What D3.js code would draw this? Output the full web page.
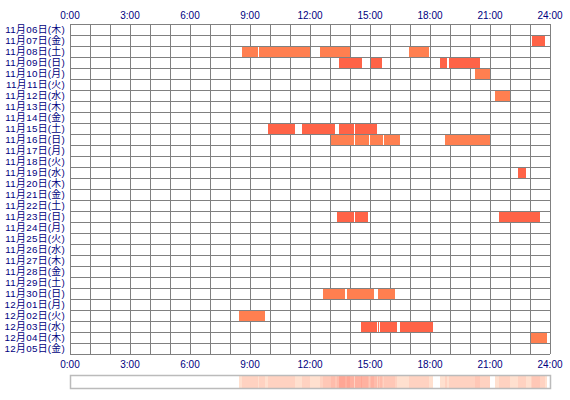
<!DOCTYPE html>
<html>
<head>
<meta charset="utf-8">
<script src="https://cdn.jsdelivr.net/npm/d3@7"></script>
<style>
  body { margin: 0; background: #fff; }
  svg text { font-family: "Liberation Sans", "Noto Sans CJK JP", sans-serif; fill: #000080; }
</style>
</head>
<body>
<svg id="chart" width="570" height="400"></svg>
<script>
const days = [
    "11月06日(木)", "11月07日(金)", "11月08日(土)", "11月09日(日)", "11月10日(月)",
    "11月11日(火)", "11月12日(水)", "11月13日(木)", "11月14日(金)", "11月15日(土)",
    "11月16日(日)", "11月17日(月)", "11月18日(火)", "11月19日(水)", "11月20日(木)",
    "11月21日(金)", "11月22日(土)", "11月23日(日)", "11月24日(月)", "11月25日(火)",
    "11月26日(水)", "11月27日(木)", "11月28日(金)", "11月29日(土)", "11月30日(日)",
    "12月01日(月)", "12月02日(火)", "12月03日(水)", "12月04日(木)", "12月05日(金)"
];

const tickHours = [0, 3, 6, 9, 12, 15, 18, 21, 24];
const tickLabels = ["0:00", "3:00", "6:00", "9:00", "12:00", "15:00", "18:00", "21:00", "24:00"];

// [day label, start hour, end hour, kind]
const sessions = [
    ["11月07日(金)", 23.1, 23.75, "b"],
    ["11月08日(土)", 8.6, 9.4, "a"], ["11月08日(土)", 9.45, 12.0, "a"],
    ["11月08日(土)", 12.5, 14.0, "a"], ["11月08日(土)", 16.95, 17.95, "a"],
    ["11月09日(日)", 13.45, 14.6, "b"], ["11月09日(日)", 15.05, 15.6, "b"],
    ["11月09日(日)", 18.5, 18.83, "b"], ["11月09日(日)", 18.93, 20.5, "b"],
    ["11月10日(月)", 20.25, 21.0, "a"],
    ["11月12日(水)", 21.25, 22.0, "a"],
    ["11月15日(土)", 9.9, 11.25, "b"], ["11月15日(土)", 11.6, 13.25, "b"],
    ["11月15日(土)", 13.45, 14.2, "b"], ["11月15日(土)", 14.25, 15.35, "b"],
    ["11月16日(日)", 13.05, 14.2, "a"], ["11月16日(日)", 14.27, 14.95, "a"],
    ["11月16日(日)", 15.0, 15.65, "a"], ["11月16日(日)", 15.7, 16.5, "a"],
    ["11月16日(日)", 18.75, 21.0, "a"],
    ["11月19日(水)", 22.4, 22.8, "b"],
    ["11月23日(日)", 13.35, 14.2, "b"], ["11月23日(日)", 14.25, 14.9, "b"],
    ["11月23日(日)", 21.45, 23.5, "b"],
    ["11月30日(日)", 12.65, 13.75, "a"], ["11月30日(日)", 13.85, 15.2, "a"],
    ["11月30日(日)", 15.4, 16.25, "a"],
    ["12月02日(火)", 8.45, 9.75, "a"],
    ["12月03日(水)", 14.55, 15.35, "b"], ["12月03日(水)", 15.4, 15.45, "b"],
    ["12月03日(水)", 15.5, 16.35, "b"], ["12月03日(水)", 16.5, 18.15, "b"],
    ["12月04日(木)", 23.05, 23.83, "a"]
];

const margin = { left: 70, right: 20, top: 24, bottom: 46 };
const W = 570, H = 400;

const svg = d3.select("#chart");

const xScale = d3.scaleLinear()
    .domain([0, 24])
    .range([margin.left, W - margin.right]);

const yScale = d3.scaleBand()
    .domain(days)
    .range([margin.top, H - margin.bottom]);

const colorScale = d3.scaleOrdinal()
    .domain(["a", "b"])
    .range(["#ff7f50", "#ff6347"]);

// grid
const grid = svg.append("g")
    .attr("stroke", "#808080")
    .attr("stroke-width", 1)
    .attr("shape-rendering", "crispEdges");

grid.selectAll(".v")
    .data(d3.range(0, 25))
    .join("line")
    .attr("x1", d => xScale(d))
    .attr("x2", d => xScale(d))
    .attr("y1", yScale.range()[0])
    .attr("y2", yScale.range()[1]);

grid.selectAll(".h")
    .data(days.concat([null]))
    .join("line")
    .attr("x1", xScale(0))
    .attr("x2", xScale(24))
    .attr("y1", (d, i) => yScale.range()[0] + i * yScale.step())
    .attr("y2", (d, i) => yScale.range()[0] + i * yScale.step());

// sessions
svg.append("g")
    .attr("shape-rendering", "crispEdges")
    .selectAll("rect")
    .data(sessions)
    .join("rect")
    .attr("x", d => xScale(d[1]))
    .attr("width", d => xScale(d[2]) - xScale(d[1]))
    .attr("y", d => yScale(d[0]) + 1)
    .attr("height", yScale.bandwidth() - 1)
    .attr("fill", d => colorScale(d[3]));

// day labels
svg.append("g")
    .selectAll("text")
    .data(days)
    .join("text")
    .attr("x", xScale(0) - 5)
    .attr("y", d => yScale(d) + yScale.bandwidth() / 2)
    .attr("dy", "0.38em")
    .attr("text-anchor", "end")
    .attr("font-size", 9.8)
    .attr("letter-spacing", 0.3)
    .text(d => d);

// hour labels top and bottom
[margin.top - 5, H - margin.bottom + 14].forEach(yy => {
    svg.append("g")
        .selectAll("text")
        .data(tickHours)
        .join("text")
        .attr("x", d => xScale(d))
        .attr("y", yy)
        .attr("text-anchor", "middle")
        .attr("font-size", 10)
        .text((d, i) => tickLabels[i]);
});

// density strip under the chart
const stripTop = 376, stripH = 12;
const bins = d3.range(0, 24, 0.05);
const counts = bins.map(b => {
    const mid = b + 0.025;
    return sessions.filter(s => s[1] <= mid && mid < s[2]).length;
});
const stripColor = d3.scaleLinear()
    .domain([0, 1, 2, d3.max(counts)])
    .range(["#ffffff", "#ffe0cf", "#ffd2c1", "#ffa695"]);

svg.append("g")
    .attr("shape-rendering", "crispEdges")
    .selectAll("rect")
    .data(bins)
    .join("rect")
    .attr("x", d => xScale(d))
    .attr("width", xScale(0.05) - xScale(0))
    .attr("y", stripTop)
    .attr("height", stripH)
    .attr("fill", (d, i) => stripColor(counts[i]));

svg.append("rect")
    .attr("x", xScale(0) + 0.5)
    .attr("y", stripTop - 0.5)
    .attr("width", xScale(24) - xScale(0))
    .attr("height", stripH + 1)
    .attr("fill", "none")
    .attr("stroke", "#bbbbbb")
    .attr("stroke-width", 1.5);
</script>
</body>
</html>
